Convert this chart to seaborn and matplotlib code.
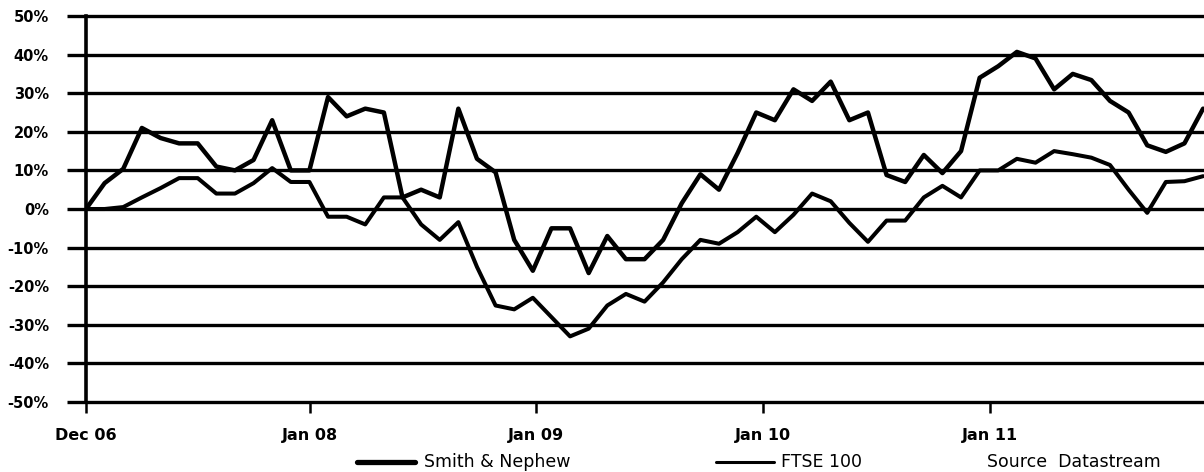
import numpy as np
import pandas as pd
import matplotlib
matplotlib.use('Agg')
import matplotlib.pyplot as plt
import seaborn as sns
from matplotlib.lines import Line2D

# monthly relative performance (%), first point = Dec 06
months = np.arange(61)
smith_nephew = [0, 6.7, 10.4, 21, 18.4, 17, 17, 11, 10, 12.7, 23, 10, 10, 29, 24, 26,
                25, 3, 5, 3, 26, 13, 9.5, -8, -16, -5, -5, -16.6, -7, -13, -13, -8,
                1.5, 9, 5, 14.5, 25, 23, 31, 28, 33, 23, 25, 8.8, 7, 14, 9.3, 15,
                34, 37, 40.7, 39, 31, 35, 33.4, 28, 25, 16.5, 14.8, 17, 26]
ftse_100 = [0, 0, 0.5, 3, 5.4, 8, 8, 4, 4, 6.7, 10.6, 7, 7, -2, -2, -4,
            3, 3, -4, -8, -3.4, -15, -25, -26, -23, -28, -33, -31, -25, -22, -24, -19,
            -13, -8, -9, -6, -2, -6, -1.5, 4, 2, -3.6, -8.5, -3, -3, 3, 6, 3,
            10, 10, 13, 12, 15, 14.2, 13.3, 11.4, 5, -1, 7, 7.2, 8.5]

x_tick_pos = [0, 12.03, 24.17, 36.36, 48.55]
x_tick_labels = ['Dec 06', 'Jan 08', 'Jan 09', 'Jan 10', 'Jan 11']
y_ticks = [-50, -40, -30, -20, -10, 0, 10, 20, 30, 40, 50]
y_tick_labels = [f'{v}%' for v in y_ticks]

sns.set_style('white')
plt.rcParams['font.family'] = ['DejaVu Sans']
plt.rcParams['text.color'] = 'black'

W, H = 1204, 472
fig = plt.figure(figsize=(W / 100, H / 100), dpi=100)
ax = fig.add_axes([86 / W, 70 / H, (W - 86) / W, 386 / H])

df = pd.DataFrame({'month': months,
                   'Smith & Nephew': smith_nephew,
                   'FTSE 100': ftse_100})

sns.lineplot(data=df, x='month', y='Smith & Nephew', color='black', lw=3.2, ax=ax)
sns.lineplot(data=df, x='month', y='FTSE 100', color='black', lw=2.9, ax=ax)

ax.set_xlim(0, 60.05)
ax.set_ylim(-50, 50)
ax.set_xticks(x_tick_pos)
ax.set_xticklabels(x_tick_labels)
ax.set_yticks(y_ticks)
ax.set_yticklabels(y_tick_labels)
ax.set_xlabel('')
ax.set_ylabel('')

# heavy black horizontal gridlines
ax.grid(axis='y', color='black', lw=2.4)
ax.grid(axis='x', visible=False)
for gl in ax.get_ygridlines():
    gl.set_clip_on(False)

for side in ['top', 'right', 'bottom']:
    ax.spines[side].set_visible(False)
ax.spines['left'].set_color('black')
ax.spines['left'].set_linewidth(2.6)

ax.tick_params(axis='y', length=13.7, width=2.4, pad=13, labelsize=10.5,
               color='black', labelcolor='black', direction='out', left=True)
ax.tick_params(axis='x', length=8, width=1.8, pad=11, labelsize=11.5,
               color='black', labelcolor='black', direction='out', bottom=True)
for lbl in ax.get_xticklabels() + ax.get_yticklabels():
    lbl.set_fontweight('bold')

# legend row under the chart
ly = 1 - 462 / H
fig.add_artist(Line2D([357 / W, 415 / W], [ly, ly], color='black', lw=3.8,
                      transform=fig.transFigure))
fig.text(424 / W, 1 - 467 / H, 'Smith & Nephew', fontsize=12.5, va='baseline',
         color='black')
fig.add_artist(Line2D([716 / W, 774 / W], [ly, ly], color='black', lw=2.2,
                      transform=fig.transFigure))
fig.text(781 / W, 1 - 467 / H, 'FTSE 100', fontsize=12.5, va='baseline',
         color='black')
fig.text(987 / W, 1 - 467 / H, 'Source  Datastream', fontsize=12.5, va='baseline',
         color='black')

fig.savefig('out.png', dpi=100)
